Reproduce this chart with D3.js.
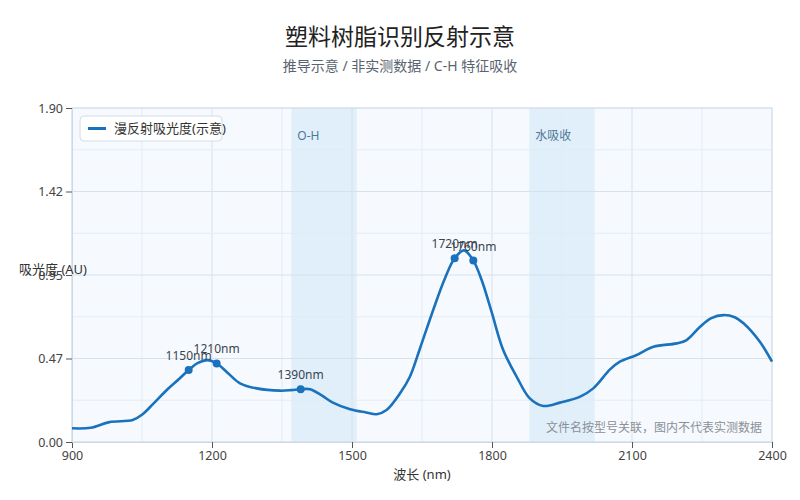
<!DOCTYPE html>
<html>
<head>
<meta charset="utf-8">
<script src="https://cdn.jsdelivr.net/npm/d3@7"></script>
<style>
  body { margin: 0; background: #fff; }
  svg { font-family: "Noto Sans", "Noto Sans CJK SC", sans-serif; }
</style>
</head>
<body>
<div class="container"></div>
<script>
// spectrum (nm, absorbance)
const wavelengths = [900, 940, 980, 1030, 1050, 1075, 1103, 1130, 1150, 1170, 1190, 1210, 1235, 1260, 1296, 1346, 1370, 1390, 1410, 1435, 1459, 1496, 1530, 1553, 1574, 1603, 1624, 1646, 1674, 1699, 1720, 1740, 1760, 1778, 1799, 1824, 1853, 1881, 1910, 1946, 1989, 2017, 2053, 2074, 2110, 2146, 2196, 2217, 2246, 2270, 2296, 2320, 2339, 2374, 2400];
const absorbance = [0.078, 0.081, 0.113, 0.125, 0.155, 0.22, 0.296, 0.36, 0.41, 0.45, 0.466, 0.447, 0.39, 0.334, 0.305, 0.292, 0.295, 0.30, 0.30, 0.265, 0.224, 0.186, 0.168, 0.158, 0.182, 0.277, 0.371, 0.535, 0.751, 0.93, 1.045, 1.09, 1.032, 0.92, 0.741, 0.523, 0.371, 0.248, 0.205, 0.224, 0.258, 0.305, 0.413, 0.457, 0.495, 0.542, 0.561, 0.58, 0.656, 0.705, 0.722, 0.71, 0.675, 0.57, 0.457];

const peakNm = [1150, 1210, 1390, 1720, 1760];
const peakVal = [0.41, 0.447, 0.30, 1.045, 1.032];
const peakLabels = ['1150nm', '1210nm', '1390nm', '1720nm', '1760nm'];

const bandNames = ['O-H', '水吸收'];
const bandStart = [1370, 1880];
const bandEnd = [1510, 2020];

const xTicks = [900, 1200, 1500, 1800, 2100, 2400];
const yTicks = [0, 0.475, 0.95, 1.425, 1.9];
const yTickLabels = ['0.00', '0.47', '0.95', '1.42', '1.90'];

const W = 800, H = 500;
const m = { left: 72, right: 28, top: 108, bottom: 58 };
const pw = W - m.left - m.right, ph = H - m.top - m.bottom;

const svg = d3.select('.container').append('svg')
  .attr('width', W).attr('height', H);

const x = d3.scaleLinear().domain([900, 2400]).range([m.left, m.left + pw]);
const y = d3.scaleLinear().domain([0, 1.9]).range([m.top + ph, m.top]);

svg.append('text').attr('x', W / 2).attr('y', 45).attr('text-anchor', 'middle')
  .attr('font-size', 23).attr('fill', '#222').text('塑料树脂识别反射示意');
svg.append('text').attr('x', W / 2).attr('y', 71).attr('text-anchor', 'middle')
  .attr('font-size', 14).attr('fill', '#5a6470').text('推导示意 / 非实测数据 / C-H 特征吸收');

// plot background
svg.append('rect').attr('x', m.left).attr('y', m.top).attr('width', pw).attr('height', ph)
  .attr('fill', '#f6fafe');

// bands
svg.selectAll('rect.band').data(bandNames).enter().append('rect')
  .attr('class', 'band')
  .attr('x', (d, i) => x(bandStart[i]))
  .attr('y', m.top)
  .attr('width', (d, i) => x(bandEnd[i]) - x(bandStart[i]))
  .attr('height', ph)
  .attr('fill', '#e0effa');

// grid
const grid = svg.append('g');
d3.range(900, 2401, 150).forEach(v => {
  grid.append('line').attr('x1', x(v)).attr('x2', x(v)).attr('y1', m.top).attr('y2', m.top + ph)
    .attr('stroke', (v - 900) % 300 === 0 ? '#d6e1ec' : '#e3ebf3').attr('stroke-width', 1);
});
d3.range(0, 8.5).forEach(k => {
  const v = k * 1.9 / 8;
  grid.append('line').attr('x1', m.left).attr('x2', m.left + pw).attr('y1', y(v)).attr('y2', y(v))
    .attr('stroke', k % 2 === 0 ? '#d6e1ec' : '#e3ebf3').attr('stroke-width', 1);
});

svg.selectAll('text.band').data(bandNames).enter().append('text')
  .attr('class', 'band')
  .attr('x', (d, i) => x(bandStart[i]) + 6)
  .attr('y', 140)
  .attr('font-size', 12).attr('fill', '#4f7896')
  .text(d => d);

svg.append('rect').attr('x', m.left).attr('y', m.top).attr('width', pw).attr('height', ph)
  .attr('fill', 'none').attr('stroke', '#d3dfea');

// axes
const xAxis = d3.axisBottom(x).tickValues(xTicks).tickSize(6).tickFormat(d3.format('d'));
const yAxis = d3.axisLeft(y).tickValues(yTicks).tickSize(6).tickFormat((d, i) => yTickLabels[i]);
const gx = svg.append('g').attr('transform', `translate(0,${m.top + ph})`).call(xAxis);
const gy = svg.append('g').attr('transform', `translate(${m.left},0)`).call(yAxis);
[gx, gy].forEach(g => {
  g.select('.domain').attr('stroke', '#cdd9e5');
  g.selectAll('.tick line').attr('stroke', '#555');
  g.selectAll('.tick text').attr('fill', '#444').attr('font-size', 12.5)
    .attr('font-family', '"Noto Sans", sans-serif');
});

svg.append('text').attr('x', 422).attr('y', 479).attr('text-anchor', 'middle')
  .attr('font-size', 13).attr('fill', '#333').text('波长 (nm)');
svg.append('text').attr('x', 53).attr('y', 274).attr('text-anchor', 'middle')
  .attr('font-size', 13).attr('fill', '#333').text('吸光度 (AU)');

// curve
const pts = wavelengths.map((d, i) => [d, absorbance[i]]);
const path = d3.line().x(d => x(d[0])).y(d => y(d[1])).curve(d3.curveCatmullRom.alpha(0.5));
svg.append('path').datum(pts).attr('d', path)
  .attr('fill', 'none').attr('stroke', '#1a72bd').attr('stroke-width', 2.6);

// peaks
svg.selectAll('circle.peak').data(peakNm).enter().append('circle')
  .attr('class', 'peak')
  .attr('cx', d => x(d)).attr('cy', (d, i) => y(peakVal[i])).attr('r', 4)
  .attr('fill', '#1a72bd');
svg.selectAll('text.peak').data(peakNm).enter().append('text')
  .attr('class', 'peak')
  .attr('x', d => x(d)).attr('y', (d, i) => y(peakVal[i]) - 10)
  .attr('text-anchor', 'middle').attr('font-size', 12).attr('fill', '#3a4450')
  .text((d, i) => peakLabels[i]);

svg.append('text').attr('x', 762).attr('y', 432).attr('text-anchor', 'end')
  .attr('font-size', 12).attr('fill', '#8a9098').text('文件名按型号关联，图内不代表实测数据');

// legend
const lg = svg.append('g');
lg.append('rect').attr('x', 80).attr('y', 116).attr('width', 142).attr('height', 25).attr('rx', 4)
  .attr('fill', '#fff').attr('stroke', '#d3dce6');
lg.append('line').attr('x1', 88).attr('x2', 106).attr('y1', 128.5).attr('y2', 128.5)
  .attr('stroke', '#1a72bd').attr('stroke-width', 3);
lg.append('text').attr('x', 114).attr('y', 133).attr('font-size', 13).attr('fill', '#333')
  .text('漫反射吸光度(示意)');
</script>
</body>
</html>
